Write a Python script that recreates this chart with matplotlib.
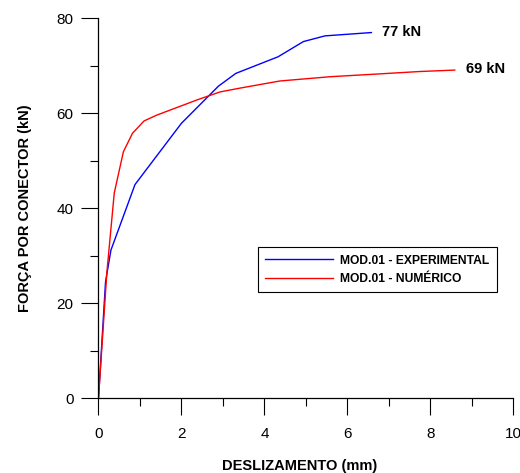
import matplotlib
matplotlib.use('Agg')
import matplotlib.pyplot as plt
from matplotlib.ticker import MultipleLocator

# curva experimental (MOD.01)
exp_desl = [0, 0.17, 0.30, 0.88, 2.0, 2.89, 3.31, 4.33, 4.94, 5.46, 6.58]
exp_forca = [0, 24.5, 31.2, 45.0, 57.9, 65.7, 68.4, 71.9, 75.1, 76.3, 77.0]

# curva numerica (MOD.01)
num_desl = [0, 0.20, 0.38, 0.60, 0.82, 1.10, 1.40, 2.37, 2.93, 3.41, 4.37, 5.58, 6.78, 7.75, 8.59]
num_forca = [0, 26.3, 43.2, 51.9, 55.8, 58.4, 59.6, 62.8, 64.5, 65.3, 66.8, 67.7, 68.3, 68.8, 69.1]

plt.rcParams['font.family'] = ['Liberation Sans', 'DejaVu Sans']

fig = plt.figure(figsize=(5.2, 4.73), dpi=100)
ax = fig.add_axes([0.1894, 0.1579, 0.7976, 0.8034])

ax.plot(exp_desl, exp_forca, color='blue', lw=1.0, label='MOD.01 - EXPERIMENTAL')
ax.plot(num_desl, num_forca, color='red', lw=1.0, label='MOD.01 - NUMÉRICO')

ax.text(6.83, 77.2, '77 kN', fontsize=10.5, fontweight='bold', va='center', ha='left')
ax.text(8.85, 69.3, '69 kN', fontsize=10.5, fontweight='bold', va='center', ha='left')

ax.set_xlim(0, 10)
ax.set_ylim(0, 80)
ax.xaxis.set_major_locator(MultipleLocator(2))
ax.xaxis.set_minor_locator(MultipleLocator(1))
ax.yaxis.set_major_locator(MultipleLocator(20))
ax.yaxis.set_minor_locator(MultipleLocator(10))

for s in ['top', 'right']:
    ax.spines[s].set_visible(False)
for s in ['left', 'bottom']:
    ax.spines[s].set_linewidth(0.9)

ax.tick_params(which='major', direction='out', length=12, width=0.8, labelsize=11)
ax.tick_params(which='minor', direction='out', length=6, width=0.8)
ax.tick_params(axis='x', which='major', pad=8.5)
ax.tick_params(axis='y', which='major', pad=6)

ax.set_xlabel('DESLIZAMENTO (mm)', fontsize=10.5, fontweight='bold')
ax.set_ylabel('FORÇA POR CONECTOR (kN)', fontsize=10.5, fontweight='bold')
ax.xaxis.set_label_coords(0.486, -0.161)
ax.yaxis.set_label_coords(-0.16, 0.5)

leg = ax.legend(loc='upper left', bbox_to_anchor=(0.385, 0.397), borderaxespad=0,
                prop={'size': 8.7, 'weight': 'bold'}, handlelength=5.6,
                handletextpad=0.6, labelspacing=0.5, borderpad=0.6,
                fancybox=False, framealpha=1)
leg.get_frame().set_edgecolor('black')
leg.get_frame().set_linewidth(0.8)

fig.savefig('out.png', dpi=100)
